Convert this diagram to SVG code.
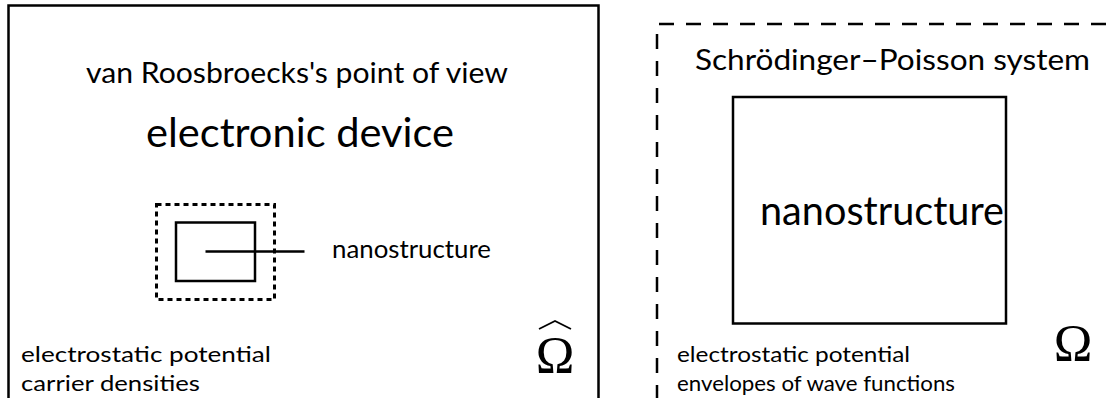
<svg xmlns="http://www.w3.org/2000/svg" width="1107" height="398" viewBox="0 0 1107 398">
  <style>
    .txt { font-family: "Lato", "Liberation Sans", "DejaVu Sans", sans-serif; font-weight: 400; fill: #000; }
    .sym { font-family: "Liberation Serif", "DejaVu Serif", serif; fill: #000; }
    .solid { fill: none; stroke: #000; stroke-width: 2.5; }
    .fine-dash { fill: none; stroke: #000; stroke-width: 3; stroke-dasharray: 5 4; }
    .long-dash { fill: none; stroke: #000; stroke-width: 2.5; stroke-dasharray: 15 12; }
  </style>
  <rect width="1107" height="398" fill="#fff"/>

  <!-- left panel: device domain with the embedded nanostructure -->
  <g id="device">
    <path class="solid" d="M8.5,400 V5.5 H598.5 V400"/>
    <text class="txt" x="86" y="83" font-size="29" textLength="422" lengthAdjust="spacingAndGlyphs">van Roosbroecks's point of view</text>
    <text class="txt" x="146" y="147" font-size="40" textLength="308" lengthAdjust="spacingAndGlyphs">electronic device</text>
    <text class="txt" x="21" y="362" font-size="21" textLength="250" lengthAdjust="spacingAndGlyphs">electrostatic potential</text>
    <text class="txt" x="21" y="391" font-size="21" textLength="179" lengthAdjust="spacingAndGlyphs">carrier densities</text>
    <text class="sym" x="555" y="373" font-size="52" text-anchor="middle">Ω</text>
    <path d="M539,329 L555,321 L571,329" fill="none" stroke="#000" stroke-width="1.8"/>
  </g>

  <g id="nano-small">
    <rect class="fine-dash" x="156.5" y="204.5" width="118" height="95"/>
    <rect class="solid" x="176" y="222.5" width="79" height="58.5"/>
    <text class="txt" x="332" y="258" font-size="25" textLength="159" lengthAdjust="spacingAndGlyphs">nanostructure</text>
  </g>

  <!-- right panel: Schrödinger–Poisson domain -->
  <g id="sp-domain">
    <path class="long-dash" d="M657,400 V24 H1107"/>
    <text class="txt" x="695" y="70" font-size="29" textLength="395" lengthAdjust="spacingAndGlyphs">Schrödinger–Poisson system</text>
    <text class="txt" x="677" y="362" font-size="21" textLength="233" lengthAdjust="spacingAndGlyphs">electrostatic potential</text>
    <text class="txt" x="677" y="391" font-size="21" textLength="278" lengthAdjust="spacingAndGlyphs">envelopes of wave functions</text>
    <text class="sym" x="1073" y="361" font-size="52" text-anchor="middle">Ω</text>
  </g>

  <g id="nano-large">
    <rect class="solid" x="733" y="97" width="273" height="226.5"/>
    <text class="txt" x="760" y="225" font-size="40" textLength="244" lengthAdjust="spacingAndGlyphs">nanostructure</text>
  </g>

  <g id="connectors">
    <line class="solid" x1="205.5" y1="251.5" x2="304.5" y2="251.5"/>
  </g>
</svg>
